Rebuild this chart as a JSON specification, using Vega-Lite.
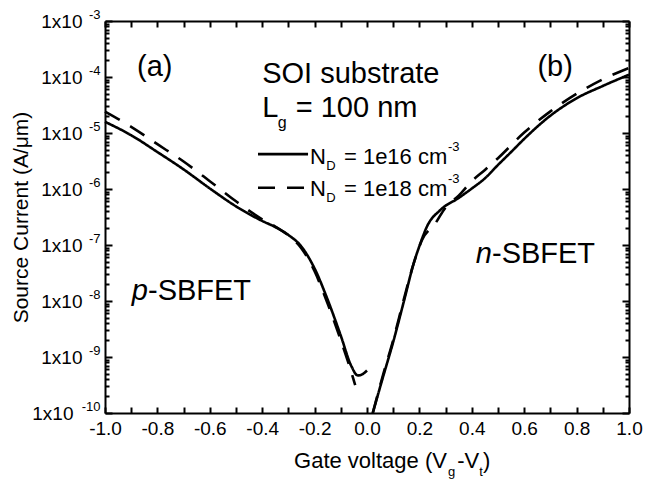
{
  "$schema": "https://vega.github.io/schema/vega-lite/v6.json",
  "width": 524,
  "height": 392,
  "autosize": {"type": "none"},
  "padding": {"left": 105, "top": 21, "right": 16, "bottom": 68},
  "background": "white",
  "config": {"view": {"stroke": null}, "font": "Liberation Sans", "axis": {"grid": false}},
  "datasets": {
    "curves": [
      {"V": -1.0, "I": 1.585e-5, "ND": "1e16", "br": "p"},
      {"V": -0.9, "I": 9.12e-6, "ND": "1e16", "br": "p"},
      {"V": -0.8, "I": 4.57e-6, "ND": "1e16", "br": "p"},
      {"V": -0.7, "I": 2.24e-6, "ND": "1e16", "br": "p"},
      {"V": -0.6, "I": 1.023e-6, "ND": "1e16", "br": "p"},
      {"V": -0.5, "I": 4.9e-7, "ND": "1e16", "br": "p"},
      {"V": -0.4, "I": 2.69e-7, "ND": "1e16", "br": "p"},
      {"V": -0.35, "I": 2.09e-7, "ND": "1e16", "br": "p"},
      {"V": -0.3, "I": 1.51e-7, "ND": "1e16", "br": "p"},
      {"V": -0.25, "I": 9.33e-8, "ND": "1e16", "br": "p"},
      {"V": -0.2, "I": 3.8e-8, "ND": "1e16", "br": "p"},
      {"V": -0.15, "I": 1.05e-8, "ND": "1e16", "br": "p"},
      {"V": -0.1, "I": 2.4e-9, "ND": "1e16", "br": "p"},
      {"V": -0.06, "I": 6.92e-10, "ND": "1e16", "br": "p"},
      {"V": -0.035, "I": 4.68e-10, "ND": "1e16", "br": "p"},
      {"V": -0.015, "I": 5.01e-10, "ND": "1e16", "br": "p"},
      {"V": 0.0, "I": 5.75e-10, "ND": "1e16", "br": "p"},
      {"V": -1.0, "I": 2.4e-5, "ND": "1e18", "br": "p"},
      {"V": -0.9, "I": 1.29e-5, "ND": "1e18", "br": "p"},
      {"V": -0.8, "I": 6.31e-6, "ND": "1e18", "br": "p"},
      {"V": -0.7, "I": 3.09e-6, "ND": "1e18", "br": "p"},
      {"V": -0.6, "I": 1.38e-6, "ND": "1e18", "br": "p"},
      {"V": -0.5, "I": 6.03e-7, "ND": "1e18", "br": "p"},
      {"V": -0.4, "I": 2.88e-7, "ND": "1e18", "br": "p"},
      {"V": -0.35, "I": 2.14e-7, "ND": "1e18", "br": "p"},
      {"V": -0.3, "I": 1.48e-7, "ND": "1e18", "br": "p"},
      {"V": -0.25, "I": 8.71e-8, "ND": "1e18", "br": "p"},
      {"V": -0.2, "I": 3.39e-8, "ND": "1e18", "br": "p"},
      {"V": -0.15, "I": 8.91e-9, "ND": "1e18", "br": "p"},
      {"V": -0.1, "I": 2.0e-9, "ND": "1e18", "br": "p"},
      {"V": -0.07, "I": 7.59e-10, "ND": "1e18", "br": "p"},
      {"V": -0.045, "I": 3.16e-10, "ND": "1e18", "br": "p"},
      {"V": 0.022, "I": 1.0e-10, "ND": "1e16", "br": "n"},
      {"V": 0.06, "I": 4.22e-10, "ND": "1e16", "br": "n"},
      {"V": 0.1, "I": 1.86e-9, "ND": "1e16", "br": "n"},
      {"V": 0.14, "I": 9.55e-9, "ND": "1e16", "br": "n"},
      {"V": 0.18, "I": 5.01e-8, "ND": "1e16", "br": "n"},
      {"V": 0.2, "I": 9.55e-8, "ND": "1e16", "br": "n"},
      {"V": 0.23, "I": 2.19e-7, "ND": "1e16", "br": "n"},
      {"V": 0.28, "I": 4.22e-7, "ND": "1e16", "br": "n"},
      {"V": 0.35, "I": 6.92e-7, "ND": "1e16", "br": "n"},
      {"V": 0.4, "I": 1.02e-6, "ND": "1e16", "br": "n"},
      {"V": 0.45, "I": 1.55e-6, "ND": "1e16", "br": "n"},
      {"V": 0.5, "I": 2.69e-6, "ND": "1e16", "br": "n"},
      {"V": 0.55, "I": 4.57e-6, "ND": "1e16", "br": "n"},
      {"V": 0.6, "I": 7.85e-6, "ND": "1e16", "br": "n"},
      {"V": 0.7, "I": 2.04e-5, "ND": "1e16", "br": "n"},
      {"V": 0.8, "I": 4.17e-5, "ND": "1e16", "br": "n"},
      {"V": 0.9, "I": 6.92e-5, "ND": "1e16", "br": "n"},
      {"V": 1.0, "I": 1.1e-4, "ND": "1e16", "br": "n"},
      {"V": 0.022, "I": 1.0e-10, "ND": "1e18", "br": "n"},
      {"V": 0.06, "I": 4.57e-10, "ND": "1e18", "br": "n"},
      {"V": 0.1, "I": 2.0e-9, "ND": "1e18", "br": "n"},
      {"V": 0.14, "I": 1.05e-8, "ND": "1e18", "br": "n"},
      {"V": 0.18, "I": 5.01e-8, "ND": "1e18", "br": "n"},
      {"V": 0.21, "I": 1.23e-7, "ND": "1e18", "br": "n"},
      {"V": 0.26, "I": 2.4e-7, "ND": "1e18", "br": "n"},
      {"V": 0.3, "I": 4.68e-7, "ND": "1e18", "br": "n"},
      {"V": 0.35, "I": 7.59e-7, "ND": "1e18", "br": "n"},
      {"V": 0.4, "I": 1.38e-6, "ND": "1e18", "br": "n"},
      {"V": 0.45, "I": 2.19e-6, "ND": "1e18", "br": "n"},
      {"V": 0.5, "I": 3.55e-6, "ND": "1e18", "br": "n"},
      {"V": 0.6, "I": 1.02e-5, "ND": "1e18", "br": "n"},
      {"V": 0.7, "I": 2.43e-5, "ND": "1e18", "br": "n"},
      {"V": 0.8, "I": 5.01e-5, "ND": "1e18", "br": "n"},
      {"V": 0.9, "I": 9.12e-5, "ND": "1e18", "br": "n"},
      {"V": 1.0, "I": 1.45e-4, "ND": "1e18", "br": "n"}
    ],
    "legendLines": [
      {"x": -0.416, "x2": -0.225, "y": 4.2e-6, "ND": "1e16"},
      {"x": -0.416, "x2": -0.225, "y": 1.05e-6, "ND": "1e18"}
    ],
    "bigCenter": [
      {"x": -0.81, "y": 1.04e-4, "t": "(a)"},
      {"x": 0.718, "y": 1.04e-4, "t": "(b)"}
    ],
    "bigLeft": [
      {"x": -0.40, "y": 7.8e-5, "t": "SOI substrate"},
      {"x": -0.40, "y": 1.93e-5, "t": "L"},
      {"x": -0.272, "y": 1.93e-5, "t": "= 100 nm"},
      {"x": -0.836, "y": 1.04e-8, "t": "-SBFET"},
      {"x": 0.477, "y": 4.77e-8, "t": "-SBFET"}
    ],
    "bigItalic": [
      {"x": -0.836, "y": 1.04e-8, "t": "p"},
      {"x": 0.477, "y": 4.77e-8, "t": "n"}
    ],
    "lgSub": [
      {"x": -0.341, "y": 1.23e-5, "t": "g"}
    ],
    "legendText": [
      {"x": -0.218, "y": 2.79e-6, "t": "N"},
      {"x": -0.088, "y": 2.79e-6, "t": "= 1e16 cm"},
      {"x": -0.218, "y": 7.5e-7, "t": "N"},
      {"x": -0.088, "y": 7.5e-7, "t": "= 1e18 cm"}
    ],
    "legendSmall": [
      {"x": -0.156, "y": 2.19e-6, "t": "D"},
      {"x": 0.309, "y": 4.8e-6, "t": "-3"},
      {"x": -0.156, "y": 5.86e-7, "t": "D"},
      {"x": 0.309, "y": 1.28e-6, "t": "-3"}
    ],
    "xTitleRight": [
      {"x": 0.305, "y": 1e-10, "t": "Gate voltage (V"}
    ],
    "xTitleLeft": [
      {"x": 0.344, "y": 1e-10, "t": "-V"},
      {"x": 0.443, "y": 1e-10, "t": ")"}
    ],
    "xTitleSub": [
      {"x": 0.309, "y": 1e-10, "t": "g"},
      {"x": 0.428, "y": 1e-10, "t": "t"}
    ]
  },
  "resolve": {"axis": {"x": "independent", "y": "independent"}},
  "layer": [
    {
      "data": {"name": "curves"},
      "mark": {"type": "line", "color": "black", "strokeWidth": 2.6, "strokeCap": "butt", "interpolate": "monotone"},
      "encoding": {
        "x": {
          "field": "V", "type": "quantitative",
          "scale": {"domain": [-1, 1], "nice": false, "zero": false},
          "axis": {
            "orient": "bottom",
            "values": [-1, -0.9, -0.8, -0.7, -0.6, -0.5, -0.4, -0.3, -0.2, -0.1, 0, 0.1, 0.2, 0.3, 0.4, 0.5, 0.6, 0.7, 0.8, 0.9, 1],
            "labelExpr": "abs(round(datum.value*10)) % 2 == 0 ? replace(format(datum.value, '.1f'), '−', '-') : ''",
            "labelFont": "Liberation Sans", "labelFontSize": 19, "labelColor": "black",
            "labelPadding": 12, "labelOverlap": false, "labelFlush": false,
            "tickSize": -6, "tickWidth": 2, "tickColor": "black",
            "domainColor": "black", "domainWidth": 2,
            "title": null
          }
        },
        "y": {
          "field": "I", "type": "quantitative",
          "scale": {"type": "log", "domain": [1e-10, 1e-3], "nice": false},
          "axis": {
            "orient": "left",
            "values": [1e-10, 2e-10, 3e-10, 4e-10, 5e-10, 6e-10, 7e-10, 8e-10, 9e-10, 1e-9, 2e-9, 3e-9, 4e-9, 5e-9, 6e-9, 7e-9, 8e-9, 9e-9, 1e-8, 2e-8, 3e-8, 4e-8, 5e-8, 6e-8, 7e-8, 8e-8, 9e-8, 1e-7, 2e-7, 3e-7, 4e-7, 5e-7, 6e-7, 7e-7, 8e-7, 9e-7, 1e-6, 2e-6, 3e-6, 4e-6, 5e-6, 6e-6, 7e-6, 8e-6, 9e-6, 1e-5, 2e-5, 3e-5, 4e-5, 5e-5, 6e-5, 7e-5, 8e-5, 9e-5, 1e-4, 2e-4, 3e-4, 4e-4, 5e-4, 6e-4, 7e-4, 8e-4, 9e-4, 1e-3],
            "labels": false,
            "tickSize": {"condition": {"test": "abs(log(datum.value)/LN10 - round(log(datum.value)/LN10)) < 0.001", "value": -7}, "value": -4},
            "tickWidth": 2, "tickColor": "black",
            "domainColor": "black", "domainWidth": 2,
            "title": "Source Current (A/μm)",
            "titleFont": "Liberation Sans", "titleFontSize": 21, "titleFontWeight": "normal", "titleColor": "black",
            "titleAngle": -90, "titleX": -78, "titleY": 196, "titleAlign": "center", "titleBaseline": "alphabetic"
          }
        },
        "strokeDash": {
          "field": "ND", "type": "nominal",
          "scale": {"domain": ["1e16", "1e18"], "range": [[1, 0], [17, 12]]},
          "legend": null
        },
        "detail": {"field": "br"},
        "order": {"field": "V", "type": "quantitative"}
      }
    },
    {
      "data": {"name": "legendLines"},
      "mark": {"type": "rule", "color": "black", "strokeWidth": 2.6, "strokeCap": "butt"},
      "encoding": {
        "x": {
          "field": "x", "type": "quantitative",
          "scale": {"domain": [-1, 1], "nice": false, "zero": false},
          "axis": {
            "orient": "top",
            "values": [-1, -0.9, -0.8, -0.7, -0.6, -0.5, -0.4, -0.3, -0.2, -0.1, 0, 0.1, 0.2, 0.3, 0.4, 0.5, 0.6, 0.7, 0.8, 0.9, 1],
            "labels": false, "tickSize": -6, "tickWidth": 2, "tickColor": "black",
            "domainColor": "black", "domainWidth": 2, "title": null
          }
        },
        "x2": {"field": "x2"},
        "y": {
          "field": "y", "type": "quantitative",
          "scale": {"type": "log", "domain": [1e-10, 1e-3], "nice": false},
          "axis": {
            "orient": "right",
            "values": [1e-10, 2e-10, 3e-10, 4e-10, 5e-10, 6e-10, 7e-10, 8e-10, 9e-10, 1e-9, 2e-9, 3e-9, 4e-9, 5e-9, 6e-9, 7e-9, 8e-9, 9e-9, 1e-8, 2e-8, 3e-8, 4e-8, 5e-8, 6e-8, 7e-8, 8e-8, 9e-8, 1e-7, 2e-7, 3e-7, 4e-7, 5e-7, 6e-7, 7e-7, 8e-7, 9e-7, 1e-6, 2e-6, 3e-6, 4e-6, 5e-6, 6e-6, 7e-6, 8e-6, 9e-6, 1e-5, 2e-5, 3e-5, 4e-5, 5e-5, 6e-5, 7e-5, 8e-5, 9e-5, 1e-4, 2e-4, 3e-4, 4e-4, 5e-4, 6e-4, 7e-4, 8e-4, 9e-4, 1e-3],
            "labels": false,
            "tickSize": {"condition": {"test": "abs(log(datum.value)/LN10 - round(log(datum.value)/LN10)) < 0.001", "value": -7}, "value": -4},
            "tickWidth": 2, "tickColor": "black",
            "domainColor": "black", "domainWidth": 2, "title": null
          }
        },
        "strokeDash": {
          "field": "ND", "type": "nominal",
          "scale": {"domain": ["1e16", "1e18"], "range": [[1, 0], [17, 12]]},
          "legend": null
        }
      }
    },
    {
      "data": {"name": "bigCenter"},
      "mark": {"type": "text", "font": "Liberation Sans", "fontSize": 29, "align": "center", "baseline": "alphabetic", "color": "black"},
      "encoding": {
        "x": {"field": "x", "type": "quantitative", "scale": {"domain": [-1, 1], "nice": false, "zero": false}, "axis": null},
        "y": {
          "field": "y", "type": "quantitative",
          "scale": {"type": "log", "domain": [1e-10, 1e-3], "nice": false},
          "axis": {
            "orient": "left",
            "values": [1e-10, 1e-9, 1e-8, 1e-7, 1e-6, 1e-5, 1e-4, 1e-3],
            "labelExpr": "'-' + format(-round(log(datum.value)/LN10), 'd')",
            "labelFont": "Liberation Sans", "labelFontSize": 13, "labelColor": "black",
            "labelPadding": 5, "labelOffset": -7, "labelOverlap": false, "labelFlush": false,
            "ticks": false, "tickSize": 0, "domain": false, "title": null
          }
        },
        "text": {"field": "t"}
      }
    },
    {
      "data": {"name": "bigLeft"},
      "mark": {"type": "text", "font": "Liberation Sans", "fontSize": 29, "align": "left", "baseline": "alphabetic", "color": "black"},
      "encoding": {
        "x": {"field": "x", "type": "quantitative", "scale": {"domain": [-1, 1], "nice": false, "zero": false}, "axis": null},
        "y": {
          "field": "y", "type": "quantitative",
          "scale": {"type": "log", "domain": [1e-10, 1e-3], "nice": false},
          "axis": {
            "orient": "left",
            "values": [1e-10, 1e-9, 1e-8, 1e-7, 1e-6, 1e-5, 1e-4, 1e-3],
            "labelExpr": "'1x10'",
            "labelFont": "Liberation Sans", "labelFontSize": 19, "labelColor": "black",
            "labelPadding": {"condition": {"test": "datum.value < 2e-10", "value": 32}, "value": 23},
            "labelOverlap": false, "labelFlush": false,
            "ticks": false, "tickSize": 0, "domain": false, "title": null
          }
        },
        "text": {"field": "t"}
      }
    },
    {
      "data": {"name": "bigItalic"},
      "mark": {"type": "text", "font": "Liberation Sans", "fontSize": 29, "fontStyle": "italic", "align": "right", "baseline": "alphabetic", "color": "black"},
      "encoding": {
        "x": {"field": "x", "type": "quantitative", "scale": {"domain": [-1, 1], "nice": false, "zero": false}, "axis": null},
        "y": {"field": "y", "type": "quantitative", "scale": {"type": "log", "domain": [1e-10, 1e-3], "nice": false}, "axis": null},
        "text": {"field": "t"}
      }
    },
    {
      "data": {"name": "lgSub"},
      "mark": {"type": "text", "font": "Liberation Sans", "fontSize": 16, "align": "left", "baseline": "alphabetic", "color": "black"},
      "encoding": {
        "x": {"field": "x", "type": "quantitative", "scale": {"domain": [-1, 1], "nice": false, "zero": false}, "axis": null},
        "y": {"field": "y", "type": "quantitative", "scale": {"type": "log", "domain": [1e-10, 1e-3], "nice": false}, "axis": null},
        "text": {"field": "t"}
      }
    },
    {
      "data": {"name": "legendText"},
      "mark": {"type": "text", "font": "Liberation Sans", "fontSize": 22, "align": "left", "baseline": "alphabetic", "color": "black"},
      "encoding": {
        "x": {"field": "x", "type": "quantitative", "scale": {"domain": [-1, 1], "nice": false, "zero": false}, "axis": null},
        "y": {"field": "y", "type": "quantitative", "scale": {"type": "log", "domain": [1e-10, 1e-3], "nice": false}, "axis": null},
        "text": {"field": "t"}
      }
    },
    {
      "data": {"name": "legendSmall"},
      "mark": {"type": "text", "font": "Liberation Sans", "fontSize": 13, "align": "left", "baseline": "alphabetic", "color": "black"},
      "encoding": {
        "x": {"field": "x", "type": "quantitative", "scale": {"domain": [-1, 1], "nice": false, "zero": false}, "axis": null},
        "y": {"field": "y", "type": "quantitative", "scale": {"type": "log", "domain": [1e-10, 1e-3], "nice": false}, "axis": null},
        "text": {"field": "t"}
      }
    },
    {
      "data": {"name": "xTitleRight"},
      "mark": {"type": "text", "font": "Liberation Sans", "fontSize": 22, "align": "right", "baseline": "alphabetic", "color": "black", "dy": 55},
      "encoding": {
        "x": {"field": "x", "type": "quantitative", "scale": {"domain": [-1, 1], "nice": false, "zero": false}, "axis": null},
        "y": {"field": "y", "type": "quantitative", "scale": {"type": "log", "domain": [1e-10, 1e-3], "nice": false}, "axis": null},
        "text": {"field": "t"}
      }
    },
    {
      "data": {"name": "xTitleLeft"},
      "mark": {"type": "text", "font": "Liberation Sans", "fontSize": 22, "align": "left", "baseline": "alphabetic", "color": "black", "dy": 55},
      "encoding": {
        "x": {"field": "x", "type": "quantitative", "scale": {"domain": [-1, 1], "nice": false, "zero": false}, "axis": null},
        "y": {"field": "y", "type": "quantitative", "scale": {"type": "log", "domain": [1e-10, 1e-3], "nice": false}, "axis": null},
        "text": {"field": "t"}
      }
    },
    {
      "data": {"name": "xTitleSub"},
      "mark": {"type": "text", "font": "Liberation Sans", "fontSize": 13, "align": "left", "baseline": "alphabetic", "color": "black", "dy": 63},
      "encoding": {
        "x": {"field": "x", "type": "quantitative", "scale": {"domain": [-1, 1], "nice": false, "zero": false}, "axis": null},
        "y": {"field": "y", "type": "quantitative", "scale": {"type": "log", "domain": [1e-10, 1e-3], "nice": false}, "axis": null},
        "text": {"field": "t"}
      }
    }
  ]
}
